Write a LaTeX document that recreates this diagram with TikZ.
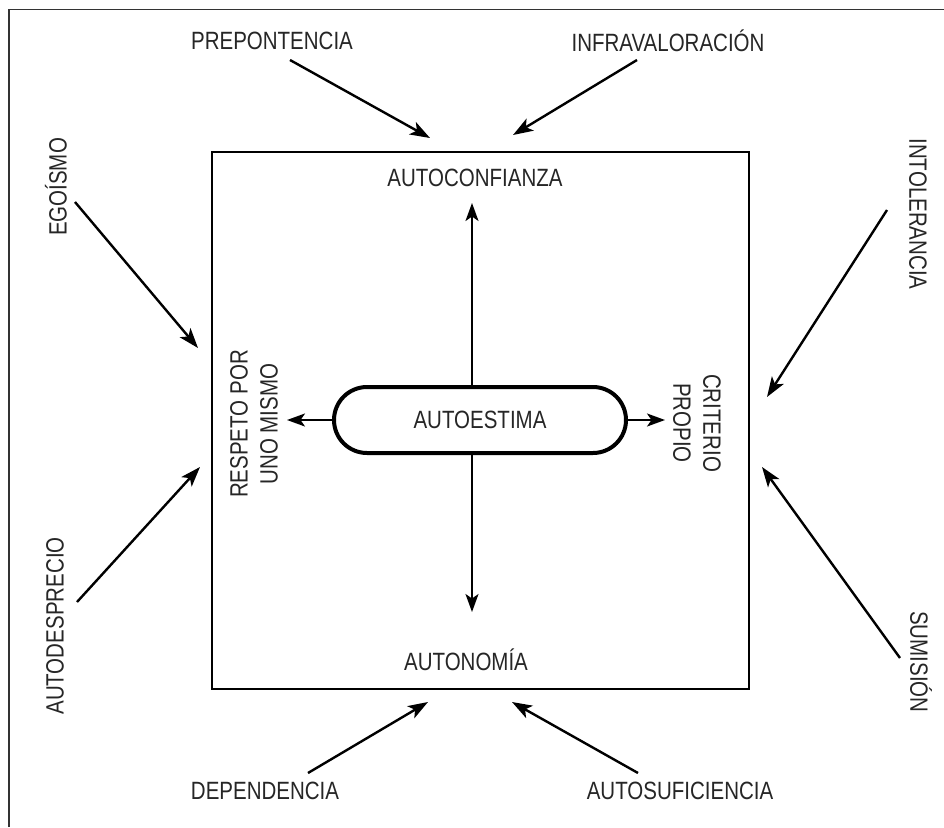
\documentclass[tikz,border=0pt]{standalone}
\usepackage{fontspec}
\setmainfont{Liberation Sans}[FakeStretch=0.82]
\usetikzlibrary{arrows.meta}

\tikzset{
  etiqueta/.style={font=\fontsize{25}{30}\selectfont, text=black!85, inner sep=0pt, align=center},
  flecha/.style={line width=2.4pt, -{Stealth[length=20pt,width=14pt,inset=5pt]}},
  flechita/.style={line width=2.2pt, -{Stealth[length=18pt,width=13pt,inset=4.5pt]}},
}

\begin{document}
\begin{tikzpicture}[x=1pt, y=-1pt]
% sizes taken in pixels of the original sheet
\providecommand{\marcoColor}{black!80}
\providecommand{\marcoWidth}{1.5pt}
\useasboundingbox (0,0) rectangle (944,827);
% Sheet frame (only top and left edges are visible)
\draw[draw=\marcoColor, line width=\marcoWidth] (9,827) -- (9,9.5) -- (944,9.5);
% Inner square
\draw[line width=\marcoWidth] (212,152) rectangle (749,689);
% Centre
\node[etiqueta, draw, line width=4pt, rounded corners=33pt, minimum width=292pt, minimum height=66pt] (autoestima) at (480,420) {AUTOESTIMA};
% Labels inside the square
\node[etiqueta] (confianza) at (475,178) {AUTOCONFIANZA};
\node[etiqueta] (autonomia) at (466,660) {AUTONOMÍA};
\node[etiqueta, rotate=90] (respeto) at (254,424) {RESPETO POR\\UNO MISMO};
\node[etiqueta, rotate=-90] (criterio) at (697,423) {CRITERIO\\PROPIO};
\coordinate (arriba) at (472,203);
\coordinate (abajo) at (472,612);
\coordinate (izquierda) at (287,420);
\coordinate (derecha) at (665,420);
\draw[flechita] (autoestima.north -| arriba) -- (arriba);
\draw[flechita] (autoestima.south -| abajo) -- (abajo);
\draw[flechita] (autoestima.west) -- (izquierda);
\draw[flechita] (autoestima.east) -- (derecha);
% Labels outside the square
\node[etiqueta] (prepon) at (272,41) {PREPONTENCIA};
\node[etiqueta] (infra) at (668,41) {INFRAVALORACIÓN};
\node[etiqueta, rotate=90] (egoismo) at (56,187) {EGOÍSMO};
\node[etiqueta, rotate=-90] (intol) at (918,214) {INTOLERANCIA};
\node[etiqueta, rotate=90] (autodesp) at (55,626) {AUTODESPRECIO};
\node[etiqueta, rotate=-90] (sumision) at (921,662) {SUMISIÓN};
\node[etiqueta] (depend) at (265,791) {DEPENDENCIA};
\node[etiqueta] (autosuf) at (680,791) {AUTOSUFICIENCIA};
% Arrow tips just outside the square
\coordinate (prepon-t) at (430,138);
\coordinate (infra-t) at (513,135);
\coordinate (egoismo-t) at (198,348);
\coordinate (intol-t) at (767,397);
\coordinate (autodesp-t) at (200,467);
\coordinate (sumision-t) at (762,467);
\coordinate (depend-t) at (428,702);
\coordinate (autosuf-t) at (512,702);
\draw[flecha] ([shift={(18,19)}]prepon.center) -- (prepon-t);
\draw[flecha] ([shift={(-31,19)}]infra.center) -- (infra-t);
\draw[flecha] ([shift={(19,15)}]egoismo.center) -- (egoismo-t);
\draw[flecha] ([shift={(-31,-4)}]intol.center) -- (intol-t);
\draw[flecha] ([shift={(22,-24)}]autodesp.center) -- (autodesp-t);
\draw[flecha] ([shift={(-21,-4)}]sumision.center) -- (sumision-t);
\draw[flecha] ([shift={(43,-18)}]depend.center) -- (depend-t);
\draw[flecha] ([shift={(-42,-18)}]autosuf.center) -- (autosuf-t);
\end{tikzpicture}
\end{document}
